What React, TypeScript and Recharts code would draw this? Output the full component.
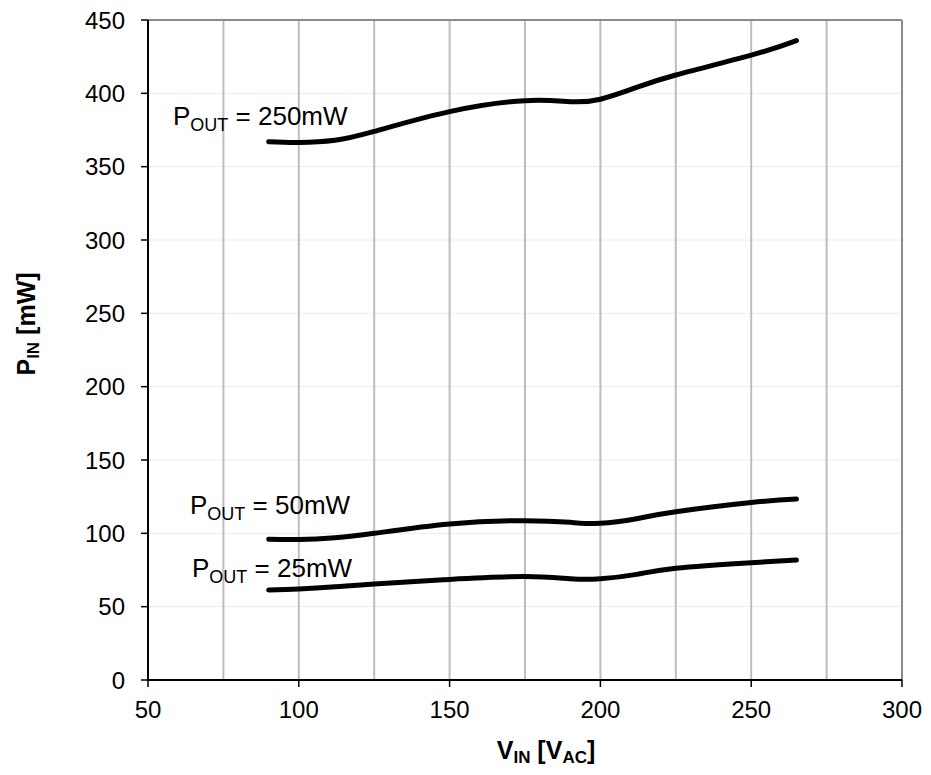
import React from 'react'
import {
  LineChart,
  Line,
  XAxis,
  YAxis,
  CartesianGrid,
  ReferenceLine,
} from 'recharts'

// input voltage points (V AC)
const vin = [90, 100, 112, 125, 150, 175, 190, 200, 212, 225, 250, 265]

// input power (mW) for each output load
const pin250 = [367, 366.5, 368, 374, 387.5, 395, 394.3, 396, 404, 412.5, 426, 436]
const pin50 = [96, 95.8, 97, 100, 106.4, 108.6, 107.5, 106.8, 110, 114.7, 121, 123.4]
const pin25 = [61.4, 62, 63.5, 65.5, 68.6, 70.5, 69, 69, 72, 76.2, 80, 81.8]

const xTicks = [50, 100, 150, 200, 250, 300]
const xMinorGrid = [75, 125, 175, 225, 275]
const yTicks = [0, 50, 100, 150, 200, 250, 300, 350, 400, 450]

const loadLabels = [
  { value: '250mW', x: 173, y: 125 },
  { value: '50mW', x: 190, y: 514 },
  { value: '25mW', x: 192, y: 577 },
]

const data = vin.map((v, i) => ({
  vin: v,
  p250: pin250[i],
  p50: pin50[i],
  p25: pin25[i],
}))

const FONT = '"Liberation Sans", Arial, sans-serif'

export default function App() {
  return (
    <div style={{ position: 'absolute', left: 0, top: 0, width: 931, height: 775, fontFamily: FONT }}>
      <LineChart
        width={931}
        height={775}
        data={data}
        margin={{ top: 20, right: 29, left: 0, bottom: 0 }}
      >
        <CartesianGrid horizontal={true} vertical={false} stroke="#e2eef9" strokeWidth={1} />
        <CartesianGrid horizontal={false} vertical={true} stroke="#bdbdbd" strokeWidth={2} />
        {xMinorGrid.map((v) => (
          <ReferenceLine key={v} x={v} stroke="#bdbdbd" strokeWidth={2} />
        ))}
        <ReferenceLine y={450} stroke="#8a8a8a" strokeWidth={2} />
        <ReferenceLine x={300} stroke="#8a8a8a" strokeWidth={2} />
        <XAxis
          dataKey="vin"
          type="number"
          domain={[50, 300]}
          ticks={xTicks}
          height={95}
          axisLine={{ stroke: '#000', strokeWidth: 2 }}
          tickLine={{ stroke: '#000', strokeWidth: 1.5 }}
          tickSize={7}
          tickMargin={14}
          tick={{ fill: '#000', fontSize: 24, fontFamily: FONT }}
          interval={0}
        />
        <YAxis
          type="number"
          domain={[0, 450]}
          ticks={yTicks}
          width={148}
          axisLine={{ stroke: '#000', strokeWidth: 2 }}
          tickLine={{ stroke: '#000', strokeWidth: 1.5 }}
          tickSize={7}
          tickMargin={16}
          tick={{ fill: '#000', fontSize: 24, fontFamily: FONT }}
          interval={0}
        />
        <Line type="natural" dataKey="p250" stroke="#000" strokeWidth={5} strokeLinecap="round" dot={false} isAnimationActive={false} />
        <Line type="natural" dataKey="p50" stroke="#000" strokeWidth={5} strokeLinecap="round" dot={false} isAnimationActive={false} />
        <Line type="natural" dataKey="p25" stroke="#000" strokeWidth={5} strokeLinecap="round" dot={false} isAnimationActive={false} />
      </LineChart>

      <svg
        width={931}
        height={775}
        style={{ position: 'absolute', left: 0, top: 0, pointerEvents: 'none' }}
        fontFamily={FONT}
      >
        {loadLabels.map((l) => (
          <text key={l.value} x={l.x} y={l.y} fontSize={26} fill="#000">
            P
            <tspan fontSize={18} dy={6}>OUT</tspan>
            <tspan dy={-6}>{' = ' + l.value}</tspan>
          </text>
        ))}
        <text x={546} y={759} textAnchor="middle" fontSize={25} fontWeight="bold" fill="#000">
          V
          <tspan fontSize={17} dy={4}>IN</tspan>
          <tspan dy={-4}> [V</tspan>
          <tspan fontSize={17} dy={4}>AC</tspan>
          <tspan dy={-4}>]</tspan>
        </text>
        <text
          x={0}
          y={0}
          transform="translate(35 324) rotate(-90)"
          textAnchor="middle"
          fontSize={25}
          fontWeight="bold"
          fill="#000"
        >
          P
          <tspan fontSize={17} dy={4}>IN</tspan>
          <tspan dy={-4}> [mW]</tspan>
        </text>
      </svg>
    </div>
  )
}
